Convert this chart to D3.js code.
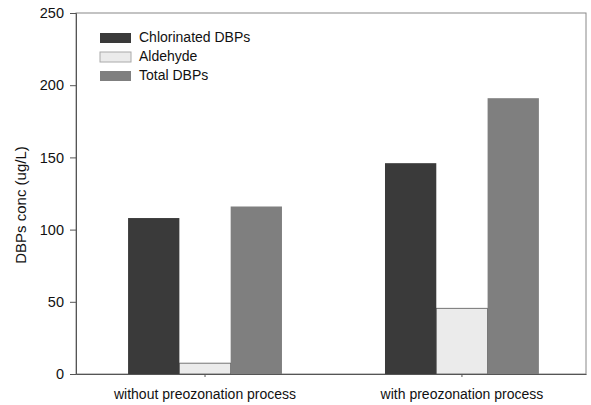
<!DOCTYPE html>
<html>
<head>
<meta charset="utf-8">
<script src="https://cdn.jsdelivr.net/npm/d3@7"></script>
<style>
  body { margin: 0; background: #fff; }
  svg { font-family: Arial, "Liberation Sans", sans-serif; }
</style>
</head>
<body>
<svg id="chart" width="591" height="405"></svg>
<script>
const categories = ["without preozonation process", "with preozonation process"];
const seriesNames = ["Chlorinated DBPs", "Aldehyde", "Total DBPs"];
const chlorinated = [108, 146];
const aldehyde = [7.5, 45.5];
const totalDbps = [116, 191];
const yTicks = [0, 50, 100, 150, 200, 250];
const fills = ["#3a3a3a", "#ebebeb", "#7f7f7f"];

const svg = d3.select("#chart");
const margin = {left: 76, right: 5, top: 13, bottom: 31};
const width = 591 - margin.left - margin.right;
const height = 405 - margin.top - margin.bottom;
const fontFam = "Arial, Liberation Sans, sans-serif";

const g = svg.append("g").attr("transform", `translate(${margin.left},${margin.top})`);

const x = d3.scaleBand().domain(categories).range([0, width])
    .paddingInner(0.401).paddingOuter(0.193).align(0.525);
const xSub = d3.scaleBand().domain(seriesNames).range([0, x.bandwidth()]);
const y = d3.scaleLinear().domain([0, 250]).range([height, 0]);

const values = [chlorinated, aldehyde, totalDbps];

// frame (top and right)
g.append("rect")
    .attr("x", 0).attr("y", 0)
    .attr("width", width).attr("height", height)
    .attr("fill", "none")
    .attr("stroke", "#888")
    .attr("stroke-width", 1);

// bars
categories.forEach(function(cat, i) {
    seriesNames.forEach(function(s, j) {
        g.append("rect")
            .attr("x", x(cat) + xSub(s))
            .attr("y", y(values[j][i]))
            .attr("width", xSub.bandwidth())
            .attr("height", height - y(values[j][i]))
            .attr("fill", fills[j])
            .attr("stroke", j === 1 ? "#555" : "none")
            .attr("stroke-width", 0.8);
    });
});

// axes
const yAxis = g.append("g")
    .call(d3.axisLeft(y).tickValues(yTicks).tickSize(6).tickPadding(6));
yAxis.selectAll("text").attr("font-size", 14.5).attr("fill", "#111").attr("font-family", fontFam);
yAxis.selectAll("line, path").attr("stroke", "#555");

const xAxis = g.append("g")
    .attr("transform", `translate(0,${height})`)
    .call(d3.axisBottom(x).tickSize(3).tickPadding(12).tickSizeOuter(0));
xAxis.selectAll("text").attr("font-size", 14).attr("fill", "#111").attr("font-family", fontFam);
xAxis.selectAll("line, path").attr("stroke", "#555");

// y label
svg.append("text")
    .attr("transform", "translate(26,205) rotate(-90)")
    .attr("text-anchor", "middle")
    .attr("font-size", 15)
    .attr("fill", "#111")
    .text("DBPs conc (ug/L)");

// legend
const legend = svg.append("g").attr("transform", "translate(100,33)");
seriesNames.forEach(function(s, j) {
    legend.append("rect")
        .attr("x", 0).attr("y", j * 19)
        .attr("width", 31).attr("height", 10)
        .attr("fill", fills[j])
        .attr("stroke", j === 1 ? "#aaa" : "none");
    legend.append("text")
        .attr("x", 39).attr("y", j * 19 + 5)
        .attr("dominant-baseline", "middle")
        .attr("font-size", 14)
        .attr("fill", "#111")
        .text(s);
});
</script>
</body>
</html>
